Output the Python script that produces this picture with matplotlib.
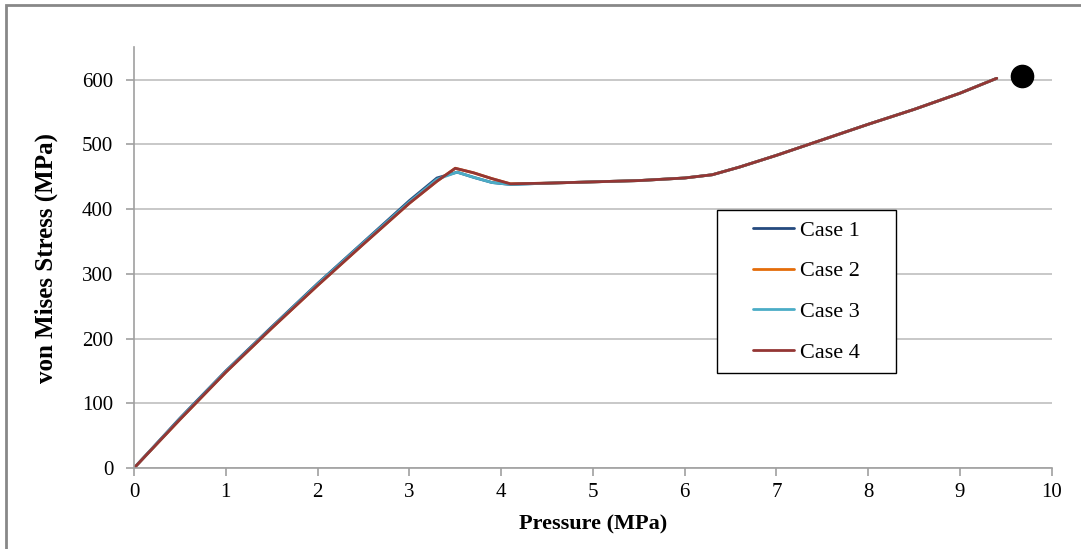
import numpy as np
from matplotlib import pyplot as plt
import matplotlib.patches as patches

plt.rcParams['font.family'] = ['Liberation Serif', 'DejaVu Serif']

# pressure (MPa) and von Mises stress (MPa)
p_a = [0, 0.5, 1.0, 1.5, 2.0, 2.5, 3.0, 3.3, 3.52, 3.7, 3.9, 4.1, 4.5, 5.0, 5.5, 6.0, 6.3, 6.6, 7.0, 7.5, 8.0, 8.5, 9.0, 9.4]
s_case1 = [0, 77, 150, 218, 285, 349, 413, 448, 457, 449, 441, 438, 440, 442, 444, 448, 453, 465, 483, 507, 531, 554, 579, 602]
s_case3 = [0, 76, 149, 217, 284, 348, 411, 446, 457, 449, 441, 438, 440, 442, 444, 448, 453, 465, 483, 507, 531, 554, 579, 602]

p_b = [0, 0.5, 1.0, 1.5, 2.0, 2.5, 3.0, 3.3, 3.5, 3.7, 3.9, 4.1, 4.5, 5.0, 5.5, 6.0, 6.3, 6.6, 7.0, 7.5, 8.0, 8.5, 9.0, 9.4]
s_case2 = [0, 75, 148, 216, 282, 346, 409, 443, 463, 456, 447, 439, 440, 442, 444, 448, 453, 465, 483, 507, 531, 554, 579, 602]
s_case4 = [0, 75, 148, 216, 282, 346, 409, 443, 463, 456, 447, 439, 440, 442, 444, 448, 453, 465, 483, 507, 531, 554, 579, 602]

# single marker at the top right
dot_p, dot_s = 9.68, 606

labels = ['Case 1', 'Case 2', 'Case 3', 'Case 4']
colors = ['#254A7E', '#E46C0A', '#4BACC6', '#943634']

fig = plt.figure(figsize=(10.81, 5.49), dpi=100)
ax = fig.add_axes([0.124, 0.1475, 0.849, 0.7665])

# outer chart frame
fig.patches.append(patches.Rectangle((6 / 1081, -0.05), 1.2, 1 - 5 / 549 + 0.05,
                                     transform=fig.transFigure, fill=False,
                                     ec='#888888', lw=2))

series = [(p_a, s_case1), (p_b, s_case2), (p_a, s_case3), (p_b, s_case4)]
for (x, y), lab, c in zip(series, labels, colors):
    ax.plot(x, y, color=c, lw=2, label=lab, solid_capstyle='round')

ax.plot([dot_p], [dot_s], 'o', color='black', ms=16, clip_on=False, zorder=5)

ax.set_xlim(0, 10)
ax.set_ylim(0, 650)
ax.set_xticks(range(0, 11))
ax.set_yticks(range(0, 700, 100))
ax.grid(axis='y', color='#BFBFBF', lw=1.2)
ax.set_axisbelow(True)
for s in ['top', 'right']:
    ax.spines[s].set_visible(False)
for s in ['left', 'bottom']:
    ax.spines[s].set_color('#A0A0A0')
    ax.spines[s].set_linewidth(1.2)
ax.tick_params(length=6, width=1.2, color='#A0A0A0', labelsize=15, pad=5)
ax.tick_params(axis='y', pad=9)

ax.set_xlabel('Pressure (MPa)', fontsize=16, fontweight='bold', labelpad=9)
ax.set_ylabel('von Mises Stress (MPa)', fontsize=18, fontweight='bold', labelpad=17)

# legend frame drawn separately so its padding can match
x0, x1 = 0.635, 0.830
y0, y1 = 0.2257, 0.613
ax.add_patch(patches.Rectangle((x0, y0), x1 - x0, y1 - y0, transform=ax.transAxes,
                               fill=True, fc='white', ec='black', lw=1.0, zorder=6))
leg = ax.legend(loc='center', bbox_to_anchor=((x0 + x1) / 2, (y0 + y1) / 2), fontsize=16,
                frameon=False, labelspacing=0.91, handlelength=1.85, handletextpad=0.25,
                borderpad=0, borderaxespad=0)
leg.set_zorder(7)

fig.savefig('out.png', dpi=100)
